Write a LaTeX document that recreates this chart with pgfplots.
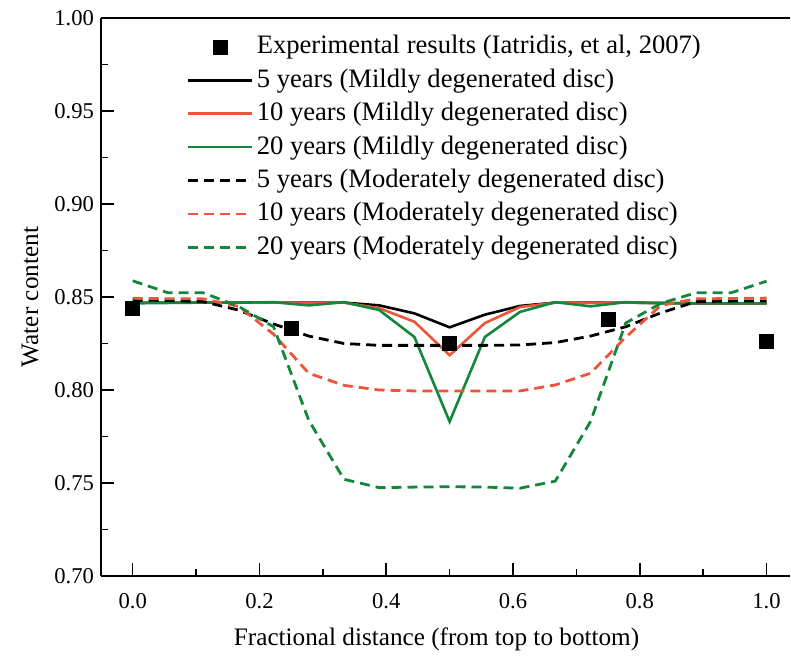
\documentclass[border=0pt]{standalone}
\usepackage{fontspec}
\setmainfont{Liberation Serif}
\usepackage{pgfplots}
\pgfplotsset{compat=1.18}
\definecolor{cred}{RGB}{238,85,56}
\definecolor{cgreen}{RGB}{18,135,60}
\begin{document}
\begin{tikzpicture}
\begin{axis}[
  scale only axis, width=344.5pt, height=279pt,
  xmin=-0.05, xmax=1.037, ymin=0.70, ymax=1.00,
  axis x line*=box, axis y line*=left,
  axis line style={line width=0.9pt},
  xtick={0,0.2,...,1.0}, ytick={0.70,0.75,...,1.00},
  minor x tick num=1, minor y tick num=1,
  xtick pos=bottom, ytick pos=left,
  tick align=inside,
  major tick length=6.5pt, minor tick length=3.5pt,
  tick style={line width=0.8pt, black},
  /pgf/number format/assume math mode=true,
  xticklabel style={/pgf/number format/fixed, /pgf/number format/fixed zerofill, /pgf/number format/precision=1, yshift=-5pt},
  yticklabel style={/pgf/number format/fixed, /pgf/number format/fixed zerofill, /pgf/number format/precision=2},
  ticklabel style={font=\fontsize{11.3}{13}\selectfont},
  xlabel={Fractional distance (from top to bottom)},
  ylabel={Water content},
  every axis x label/.style={at={(rel axis cs:0.487,0)}, anchor=center, yshift=-31.5pt, font=\fontsize{12.6}{15}\selectfont},
  every axis y label/.style={at={(rel axis cs:0,0.5)}, anchor=center, rotate=90, yshift=35.5pt, font=\fontsize{12.6}{15}\selectfont},
  legend style={draw=none, fill=none, at={(axis cs:0.0857,0.9925)}, anchor=north west,
    inner sep=0pt, outer sep=0pt, row sep=1.7pt,
    font=\fontsize{13.3}{16}\selectfont,
    nodes={inner sep=1.5pt, text height=9.5pt, text depth=2.5pt}},
  legend cell align=left,
  legend image code/.code={\draw[mark repeat=2,mark phase=2,#1] plot coordinates {(0pt,0pt) (16pt,0pt) (32pt,0pt)};},
]
\coordinate (sw) at (rel axis cs:0,0);
\coordinate (ne) at (rel axis cs:1,1);
% experimental
\addplot[only marks, mark=square*, mark size=3.5pt, black] coordinates {
 (0,0.844) (0.25,0.8333) (0.5,0.825) (0.75,0.838) (1.0,0.826)};
\addlegendentry{Experimental results (Iatridis, et al, 2007)}
% 5 years mild
\addplot[black, line width=1.3pt] coordinates {
 (0.0000,0.8470) (0.0556,0.8470) (0.1111,0.8470) (0.1667,0.8470) (0.2222,0.8470) (0.2778,0.8470) (0.3333,0.8470) (0.3889,0.8455) (0.4444,0.8412) (0.5000,0.8337) (0.5556,0.8405) (0.6111,0.8452) (0.6667,0.8470) (0.7222,0.8470) (0.7778,0.8470) (0.8333,0.8468) (0.8889,0.8466) (0.9444,0.8466) (1.0000,0.8466)};
\addlegendentry{5 years (Mildly degenerated disc)}
% 10 years mild
\addplot[cred, line width=1.3pt] coordinates {
 (0.0000,0.8470) (0.0556,0.8470) (0.1111,0.8470) (0.1667,0.8470) (0.2222,0.8470) (0.2778,0.8468) (0.3333,0.8470) (0.3889,0.8440) (0.4444,0.8367) (0.5000,0.8187) (0.5556,0.8360) (0.6111,0.8446) (0.6667,0.8470) (0.7222,0.8468) (0.7778,0.8470) (0.8333,0.8468) (0.8889,0.8466) (0.9444,0.8466) (1.0000,0.8466)};
\addlegendentry{10 years (Mildly degenerated disc)}
% 20 years mild
\addplot[cgreen, line width=1.3pt] coordinates {
 (0.0000,0.8466) (0.0556,0.8468) (0.1111,0.8470) (0.1667,0.8470) (0.2222,0.8472) (0.2778,0.8455) (0.3333,0.8472) (0.3889,0.8430) (0.4444,0.8285) (0.5000,0.7830) (0.5556,0.8285) (0.6111,0.8420) (0.6667,0.8472) (0.7222,0.8450) (0.7778,0.8472) (0.8333,0.8466) (0.8889,0.8466) (0.9444,0.8466) (1.0000,0.8466)};
\addlegendentry{20 years (Mildly degenerated disc)}
% 5 years moderate
\addplot[black, line width=1.4pt, dash pattern=on 5pt off 3pt] coordinates {
 (0.0000,0.8484) (0.0556,0.8481) (0.1111,0.8475) (0.1667,0.8430) (0.2222,0.8355) (0.2778,0.8290) (0.3333,0.8250) (0.3889,0.8240) (0.4444,0.8240) (0.5000,0.8240) (0.5556,0.8240) (0.6111,0.8242) (0.6667,0.8255) (0.7222,0.8290) (0.7778,0.8340) (0.8333,0.8415) (0.8889,0.8475) (0.9444,0.8478) (1.0000,0.8478)};
\addlegendentry{5 years (Moderately degenerated disc)}
% 10 years moderate
\addplot[cred, line width=1.4pt, dash pattern=on 5pt off 3pt] coordinates {
 (0.0000,0.8493) (0.0556,0.8491) (0.1111,0.8490) (0.1667,0.8450) (0.2222,0.8300) (0.2778,0.8090) (0.3333,0.8025) (0.3889,0.8000) (0.4444,0.7995) (0.5000,0.7995) (0.5556,0.7995) (0.6111,0.7995) (0.6667,0.8027) (0.7222,0.8090) (0.7778,0.8284) (0.8333,0.8455) (0.8889,0.8490) (0.9444,0.8492) (1.0000,0.8494)};
\addlegendentry{10 years (Moderately degenerated disc)}
% 20 years moderate
\addplot[cgreen, line width=1.4pt, dash pattern=on 5pt off 3pt] coordinates {
 (0.0000,0.8587) (0.0556,0.8523) (0.1111,0.8523) (0.1667,0.8450) (0.2222,0.8340) (0.2778,0.7837) (0.3333,0.7520) (0.3889,0.7475) (0.4444,0.7478) (0.5000,0.7480) (0.5556,0.7478) (0.6111,0.7472) (0.6667,0.7510) (0.7222,0.7830) (0.7778,0.8360) (0.8333,0.8466) (0.8889,0.8523) (0.9444,0.8523) (1.0000,0.8585)};
\addlegendentry{20 years (Moderately degenerated disc)}
% experimental on top
\addplot[only marks, mark=square*, mark size=3.5pt, black, forget plot] coordinates {
 (0,0.844) (0.25,0.8333) (0.5,0.825) (0.75,0.838) (1.0,0.826)};
\end{axis}
\path (sw) ++(-50.5pt,-41.5pt) coordinate (bbA);
\path (ne) ++(0.5pt,9pt) coordinate (bbB);
\pgfresetboundingbox
\useasboundingbox (bbA) rectangle (bbB);
\end{tikzpicture}
\end{document}
